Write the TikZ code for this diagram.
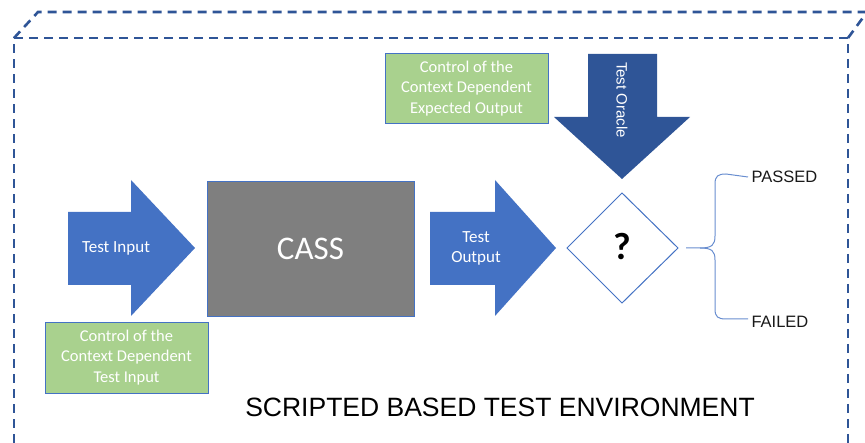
\documentclass[tikz,border=0pt]{standalone}
\usepackage{fontspec}
\setmainfont{Liberation Sans}
\newfontfamily\calib{Carlito}
\definecolor{midblue}{HTML}{4472C4}
\definecolor{darkblue}{HTML}{2F5597}
\definecolor{greenbox}{HTML}{A9D18E}
\definecolor{cassgray}{HTML}{7F7F7F}
\begin{document}
\begin{tikzpicture}[x=1pt,y=-1pt,
  envline/.style={draw=darkblue,line width=2.6pt,dash pattern=on 9pt off 6pt},
  bluearrow/.style={fill=midblue,draw=none},
  oraclearrow/.style={fill=darkblue,draw=none},
  greenrect/.style={fill=greenbox,draw=midblue,line width=0.8pt},
  greentext/.style={text=white,font=\calib\fontsize{16.5}{20.5}\selectfont,align=center},
  arrowtext/.style={text=white,font=\calib\fontsize{17}{20}\selectfont,align=center},
  outcome/.style={font=\fontsize{16.5}{20}\selectfont,anchor=west,text=black!90},
  braceline/.style={draw=midblue!80,line width=1pt}]
\useasboundingbox (0,0) rectangle (865,443);
% environment box
\draw[envline] (14,443) -- (14,38) -- (848,38) -- (848,443);
\draw[envline] (14,38) -- (38,12) -- (875,12);
\draw[envline] (848,38) -- (870,8);
% Test Input arrow
\fill[bluearrow] (68,212) -- (131,212) -- (131,180) -- (195,248) -- (131,316) -- (131,285) -- (68,285) -- cycle;
\node[arrowtext] (tin) at (116,248) {Test Input};
% CASS
\node[fill=cassgray,draw=midblue,line width=0.8pt,minimum width=207pt,minimum height=135pt,inner sep=0pt,
  text=white,font=\calib\fontsize{33}{36}\selectfont] (cass) at (310.5,248.5) {CASS};
% Test Output arrow
\fill[bluearrow] (430,212) -- (495,212) -- (495,180) -- (556,248) -- (495,316) -- (495,285) -- (430,285) -- cycle;
\node[arrowtext] (tout) at (476,248) {Test\\Output};
% diamond
\draw[draw=midblue,fill=white,line width=1pt] (567,248) -- (622,193) -- (678,248) -- (622,303) -- cycle;
\node[font=\calib\bfseries\fontsize{38}{40}\selectfont] (q) at (622,247) {?};
\coordinate (dright) at (678,248);
% Test Oracle arrow
\fill[oraclearrow] (588,54) -- (657,54) -- (657,117) -- (690,117) -- (622,179) -- (554,117) -- (588,117) -- cycle;
\node[rotate=-90,text=white,font=\fontsize{15}{18}\selectfont] (oracle) at (622,100) {Test Oracle};
% green boxes
\node[greenrect,minimum width=163pt,minimum height=70pt,inner sep=0pt] (gtop) at (466.5,88.5) {};
\node[greentext] at (gtop) {Control of the\\Context Dependent\\Expected Output};
\node[greenrect,minimum width=163pt,minimum height=71pt,inner sep=0pt] (gbot) at (126.5,357.5) {};
\node[greentext] at (gbot) {Control of the\\Context Dependent\\Test Input};
% outcomes
\node[outcome] (passed) at (748,177) {PASSED};
\node[outcome] (failed) at (748,322) {FAILED};
% brace
\draw[braceline] (686,248) -- (700,248) .. controls (712,248) and (715,245) .. (715,236)
  -- (715,184) .. controls (715,176) and (718,174) .. (726,174) -- (passed.west);
\draw[braceline] (700,248) .. controls (712,248) and (715,251) .. (715,260)
  -- (715,309) .. controls (715,317) and (718,319) .. (726,319) -- (failed.west |- 0,319);
% title
\node[font=\fontsize{26.5}{30}\selectfont] (title) at (500,407) {SCRIPTED BASED TEST ENVIRONMENT};
\end{tikzpicture}
\end{document}
